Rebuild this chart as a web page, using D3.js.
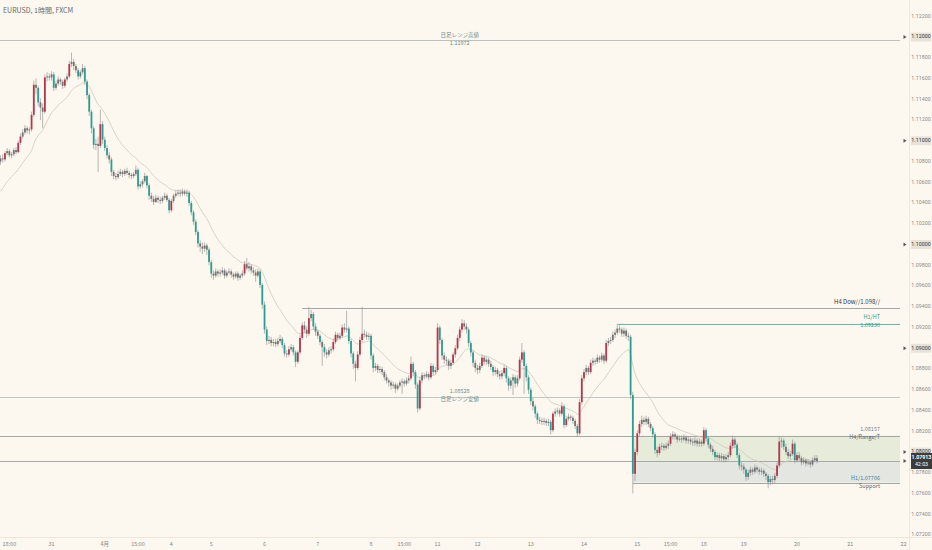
<!DOCTYPE html>
<html><head><meta charset="utf-8">
<script src="https://cdn.jsdelivr.net/npm/d3@7"></script>
<style>
html,body{margin:0;padding:0;background:#fdf8ef;}
svg{display:block;}
</style></head><body>
<svg id="c" width="932" height="550"></svg>
<script>
// ---- data (EURUSD 1h, FXCM) ----
const firstIndex = -47;          // bar index relative to 4月1日 00:00
const firstOpen = 1.1080;
const close = [
1.1083,1.1082,1.1088,1.1090,1.1086,1.1087,1.1091,1.1089,1.1098,1.1104,1.1108,1.1112,
1.1110,1.1111,1.1125,1.1154,1.1151,1.1137,1.1132,1.1128,1.1161,1.1162,1.1161,1.1164,
1.1151,1.1155,1.1159,1.1157,1.1153,1.1159,1.1162,1.1174,1.1176,1.1172,1.1168,1.1162,
1.1166,1.1170,1.1157,1.1144,1.1128,1.1112,1.1096,1.1097,1.1095,1.1116,1.1101,1.1093,
1.1086,1.1082,1.1070,1.1066,1.1065,1.1068,1.1070,1.1068,1.1071,1.1069,1.1067,1.1066,
1.1068,1.1072,1.1056,1.1058,1.1061,1.1066,1.1057,1.1047,1.1044,1.1041,1.1045,1.1043,
1.1042,1.1045,1.1047,1.1043,1.1033,1.1042,1.1047,1.1049,1.1050,1.1049,1.1051,1.1049,
1.1050,1.1040,1.1031,1.1022,1.1012,1.1001,1.0998,1.0996,1.0999,1.0995,1.0983,1.0972,
1.0970,1.0974,1.0972,1.0973,1.0975,1.0970,1.0973,1.0974,1.0971,1.0969,1.0972,1.0968,
1.0970,1.0972,1.0981,1.0977,1.0979,1.0975,1.0973,1.0970,1.0974,1.0961,1.0942,1.0918,
1.0907,1.0908,1.0905,1.0906,1.0904,1.0907,1.0909,1.0903,1.0895,1.0894,1.0899,1.0901,
1.0896,1.0887,1.0896,1.0910,1.0922,1.0918,1.0914,1.0929,1.0933,1.0921,1.0916,1.0912,
1.0906,1.0901,1.0896,1.0894,1.0898,1.0899,1.0906,1.0913,1.0910,1.0912,1.0920,1.0918,
1.0919,1.0907,1.0895,1.0885,1.0881,1.0894,1.0908,1.0914,1.0913,1.0911,1.0912,1.0893,
1.0881,1.0883,1.0879,1.0880,1.0877,1.0872,1.0869,1.0867,1.0864,1.0865,1.0861,1.0864,
1.0867,1.0868,1.0866,1.0869,1.0871,1.0885,1.0877,1.0865,1.0842,1.0869,1.0874,1.0873,
1.0875,1.0872,1.0883,1.0877,1.0879,1.0920,1.0908,1.0893,1.0889,1.0888,1.0883,1.0886,
1.0894,1.0900,1.0910,1.0918,1.0924,1.0921,1.0918,1.0905,1.0896,1.0886,1.0881,1.0879,
1.0883,1.0891,1.0887,1.0889,1.0885,1.0882,1.0877,1.0879,1.0875,1.0873,1.0876,1.0881,
1.0871,1.0864,1.0869,1.0872,1.0866,1.0871,1.0889,1.0896,1.0883,1.0872,1.0860,1.0849,
1.0844,1.0837,1.0831,1.0830,1.0829,1.0830,1.0828,1.0829,1.0821,1.0837,1.0839,1.0840,
1.0837,1.0844,1.0826,1.0832,1.0834,1.0833,1.0830,1.0825,1.0818,1.0848,1.0871,1.0877,
1.0881,1.0877,1.0886,1.0888,1.0887,1.0891,1.0889,1.0893,1.0888,1.0905,1.0907,1.0908,
1.0913,1.0915,1.0919,1.0918,1.0914,1.0917,1.0912,1.0911,1.0855,1.0779,1.0800,1.0818,
1.0827,1.0831,1.0829,1.0832,1.0827,1.0823,1.0817,1.0802,1.0799,1.0805,1.0806,1.0804,
1.0806,1.0808,1.0815,1.0817,1.0815,1.0812,1.0813,1.0812,1.0814,1.0811,1.0812,1.0810,
1.0809,1.0811,1.0808,1.0810,1.0808,1.0821,1.0813,1.0807,1.0803,1.0800,1.0795,1.0797,
1.0794,1.0796,1.0793,1.0795,1.0797,1.0806,1.0812,1.0807,1.0797,1.0787,1.0786,1.0783,
1.0776,1.0780,1.0783,1.0781,1.0785,1.0783,1.0781,1.0782,1.0779,1.0777,1.0771,1.0774,
1.0773,1.0777,1.0787,1.0810,1.0811,1.0805,1.0800,1.0796,1.0798,1.0808,1.0792,1.0797,
1.0794,1.0790,1.0792,1.0789,1.0790,1.0788,1.0792,1.0794,1.07913
];
const high = [
1.1086,1.1087,1.1090,1.1093,1.1092,1.1089,1.1093,1.1094,1.1100,1.1107,1.1111,1.1115,
1.1114,1.1113,1.1128,1.1158,1.1160,1.1153,1.1141,1.1136,1.1164,1.1166,1.1165,1.1167,
1.1166,1.1158,1.1162,1.1161,1.1159,1.1161,1.1165,1.1177,1.1185,1.1179,1.1174,1.1170,
1.1168,1.1174,1.1172,1.1159,1.1146,1.1130,1.1114,1.1102,1.1104,1.1130,1.1119,1.1104,
1.1096,1.1089,1.1084,1.1072,1.1069,1.1071,1.1073,1.1072,1.1073,1.1074,1.1071,1.1069,
1.1070,1.1076,1.1074,1.1061,1.1063,1.1069,1.1067,1.1059,1.1050,1.1047,1.1048,1.1047,
1.1046,1.1047,1.1050,1.1049,1.1045,1.1044,1.1049,1.1052,1.1053,1.1053,1.1054,1.1053,
1.1053,1.1052,1.1042,1.1033,1.1024,1.1014,1.1004,1.1002,1.1002,1.1001,1.0997,1.0985,
1.0975,1.0977,1.0976,1.0976,1.0978,1.0977,1.0975,1.0977,1.0976,1.0973,1.0974,1.0974,
1.0972,1.0975,1.0984,1.0987,1.0983,1.0981,1.0978,1.0976,1.0977,1.0976,1.0963,1.0945,
1.0921,1.0912,1.0911,1.0909,1.0909,1.0910,1.0913,1.0911,1.0905,1.0898,1.0902,1.0904,
1.0903,1.0898,1.0898,1.0913,1.0925,1.0926,1.0921,1.0940,1.0937,1.0935,1.0924,1.0918,
1.0914,1.0908,1.0904,1.0899,1.0901,1.0902,1.0909,1.0916,1.0915,1.0915,1.0923,1.0924,
1.0936,1.0921,1.0909,1.0897,1.0888,1.0897,1.0911,1.0940,1.0918,1.0916,1.0915,1.0914,
1.0895,1.0886,1.0885,1.0883,1.0882,1.0879,1.0875,1.0871,1.0869,1.0868,1.0867,1.0866,
1.0869,1.0871,1.0870,1.0872,1.0874,1.0892,1.0887,1.0879,1.0867,1.0872,1.0877,1.0876,
1.0878,1.0877,1.0886,1.0885,1.0882,1.0924,1.0922,1.0910,1.0896,1.0892,1.0890,1.0889,
1.0896,1.0903,1.0913,1.0921,1.0928,1.0927,1.0924,1.0920,1.0907,1.0898,1.0889,1.0884,
1.0886,1.0894,1.0893,1.0892,1.0891,1.0888,1.0884,1.0882,1.0881,1.0878,1.0879,1.0884,
1.0883,1.0873,1.0872,1.0875,1.0874,1.0874,1.0892,1.0905,1.0898,1.0885,1.0874,1.0862,
1.0852,1.0846,1.0839,1.0834,1.0833,1.0833,1.0832,1.0832,1.0831,1.0839,1.0842,1.0843,
1.0842,1.0848,1.0846,1.0835,1.0837,1.0836,1.0835,1.0832,1.0827,1.0851,1.0874,1.0880,
1.0884,1.0883,1.0889,1.0891,1.0890,1.0894,1.0893,1.0896,1.0895,1.0908,1.0910,1.0911,
1.0916,1.0918,1.0923,1.0922,1.0920,1.0920,1.0919,1.0915,1.0913,1.0858,1.0803,1.0821,
1.0830,1.0835,1.0834,1.0835,1.0834,1.0829,1.0825,1.0819,1.0805,1.0808,1.0809,1.0808,
1.0809,1.0811,1.0818,1.0820,1.0819,1.0817,1.0816,1.0816,1.0817,1.0816,1.0815,1.0814,
1.0813,1.0814,1.0813,1.0813,1.0812,1.0824,1.0823,1.0815,1.0809,1.0806,1.0802,1.0800,
1.0799,1.0799,1.0798,1.0798,1.0800,1.0809,1.0816,1.0814,1.0809,1.0799,1.0790,1.0789,
1.0785,1.0783,1.0786,1.0785,1.0788,1.0787,1.0785,1.0785,1.0784,1.0781,1.0779,1.0777,
1.0777,1.0780,1.0790,1.0815,1.0814,1.0813,1.0808,1.0803,1.0801,1.0812,1.0810,1.0800,
1.0800,1.0796,1.0795,1.0794,1.0793,1.0792,1.0795,1.0797,1.0797
];
const low = [
1.1077,1.1079,1.1080,1.1086,1.1084,1.1083,1.1085,1.1087,1.1088,1.1096,1.1102,1.1106,
1.1107,1.1106,1.1109,1.1123,1.1145,1.1133,1.1120,1.1112,1.1126,1.1157,1.1158,1.1158,
1.1148,1.1149,1.1153,1.1154,1.1150,1.1151,1.1157,1.1160,1.1171,1.1168,1.1165,1.1159,
1.1160,1.1164,1.1154,1.1140,1.1124,1.1107,1.1092,1.1091,1.1070,1.1093,1.1097,1.1090,
1.1083,1.1078,1.1066,1.1063,1.1062,1.1063,1.1066,1.1065,1.1066,1.1067,1.1064,1.1063,
1.1064,1.1066,1.1053,1.1054,1.1055,1.1059,1.1054,1.1043,1.1041,1.1038,1.1040,1.1040,
1.1039,1.1040,1.1043,1.1041,1.1030,1.1031,1.1040,1.1045,1.1047,1.1046,1.1047,1.1047,
1.1046,1.1037,1.1028,1.1019,1.1009,1.0997,1.0993,1.0991,1.0993,1.0990,1.0980,1.0968,
1.0966,1.0968,1.0969,1.0969,1.0971,1.0967,1.0968,1.0971,1.0968,1.0966,1.0967,1.0965,
1.0966,1.0968,1.0970,1.0975,1.0974,1.0972,1.0970,1.0964,1.0968,1.0958,1.0938,1.0914,
1.0903,1.0904,1.0902,1.0902,1.0901,1.0902,1.0905,1.0900,1.0892,1.0891,1.0892,1.0897,
1.0893,1.0882,1.0885,1.0894,1.0908,1.0915,1.0910,1.0912,1.0926,1.0918,1.0912,1.0909,
1.0903,1.0883,1.0892,1.0890,1.0892,1.0895,1.0897,1.0904,1.0907,1.0908,1.0910,1.0915,
1.0915,1.0904,1.0891,1.0880,1.0868,1.0879,1.0892,1.0906,1.0910,1.0908,1.0908,1.0889,
1.0877,1.0878,1.0876,1.0876,1.0874,1.0869,1.0866,1.0863,1.0860,1.0861,1.0857,1.0859,
1.0862,1.0856,1.0863,1.0864,1.0866,1.0869,1.0873,1.0861,1.0838,1.0840,1.0866,1.0870,
1.0871,1.0869,1.0870,1.0874,1.0875,1.0877,1.0904,1.0889,1.0885,1.0884,1.0879,1.0880,
1.0884,1.0891,1.0898,1.0907,1.0915,1.0918,1.0914,1.0901,1.0892,1.0882,1.0877,1.0875,
1.0876,1.0881,1.0884,1.0884,1.0882,1.0879,1.0873,1.0874,1.0872,1.0870,1.0870,1.0873,
1.0867,1.0859,1.0861,1.0855,1.0862,1.0863,1.0869,1.0886,1.0856,1.0868,1.0856,1.0845,
1.0840,1.0833,1.0827,1.0827,1.0826,1.0826,1.0825,1.0825,1.0817,1.0819,1.0834,1.0836,
1.0834,1.0835,1.0823,1.0824,1.0830,1.0830,1.0827,1.0822,1.0815,1.0816,1.0846,1.0868,
1.0874,1.0874,1.0875,1.0883,1.0884,1.0885,1.0886,1.0887,1.0885,1.0886,1.0902,1.0904,
1.0906,1.0910,1.0913,1.0915,1.0911,1.0911,1.0909,1.0907,1.0851,1.0760,1.0772,1.0797,
1.0815,1.0824,1.0826,1.0826,1.0824,1.0820,1.0814,1.0798,1.0795,1.0797,1.0802,1.0801,
1.0802,1.0803,1.0806,1.0812,1.0812,1.0809,1.0810,1.0809,1.0810,1.0808,1.0808,1.0807,
1.0806,1.0806,1.0805,1.0805,1.0805,1.0806,1.0810,1.0804,1.0800,1.0797,1.0792,1.0792,
1.0791,1.0791,1.0790,1.0790,1.0792,1.0795,1.0803,1.0804,1.0794,1.0783,1.0782,1.0779,
1.0772,1.0773,1.0777,1.0778,1.0779,1.0780,1.0778,1.0778,1.0776,1.0773,1.0765,1.0768,
1.0769,1.0770,1.0775,1.0785,1.0804,1.0802,1.0797,1.0793,1.0793,1.0796,1.0789,1.0790,
1.0791,1.0787,1.0788,1.0786,1.0787,1.0785,1.0786,1.0790,1.0789
];
const priceTicks = [1.072,1.074,1.076,1.078,1.080,1.082,1.084,1.086,1.088,1.090,1.092,1.094,1.096,1.098,1.100,1.102,1.104,1.106,1.108,1.110,1.112,1.114,1.116,1.118,1.120,1.122];
const markedPrices = [1.08,1.09,1.10,1.11,1.12];
const timeTickIndex = [-43,-24,0,15,30,48,72,96,120,135,150,168,192,216,240,255,270,288,312,336,360];
const timeTickLabels = ["18:00","31","4月","15:00","4","5","6","7","8","15:00","11","12","13","14","15","15:00","18","19","20","21","22"];
const levelDayHigh = 1.11972, levelDayLow = 1.08528;
const levelH4Dow = 1.09388, h4DowStart = 89;
const levelH1HT = 1.09230, h1HTStart = 231;
const levelRangeTop = 1.08157, levelSupport = 1.07706, zoneStart = 238;
const lastPrice = 1.07913, countdown = "42:03";
const maPeriod = 20, maSeed = 1.1048;
const title = "EURUSD, 1時間, FXCM";

// ---- drawing ----
const W = 932, H = 550, plotRight = 900, axisTop = 537;
const svg = d3.select("#c");
const FONT = "Roboto, 'Noto Sans', 'Noto Sans CJK JP', sans-serif";
const JFONT = "'Noto Sans CJK JP', 'Noto Sans', sans-serif";
svg.append("rect").attr("width", W).attr("height", H).attr("fill", "#fdf8ef");

const x = d3.scaleLinear().domain([-47, 360]).range([0.5, 903.5]);
const y = d3.scaleLinear().domain([1.08, 1.12]).range([452, 37]);

const bars = close.map((c, k) => ({
  i: firstIndex + k,
  o: k ? close[k - 1] : firstOpen,
  c, h: high[k], l: low[k]
}));

const g = svg.append("g");

// zone (range box)
g.append("rect").attr("x", x(zoneStart)).attr("width", plotRight - x(zoneStart))
  .attr("y", y(levelRangeTop)).attr("height", y(lastPrice) - y(levelRangeTop))
  .attr("fill", "#e6ebda");
g.append("rect").attr("x", x(zoneStart)).attr("width", plotRight - x(zoneStart))
  .attr("y", y(lastPrice)).attr("height", y(levelSupport) - y(lastPrice))
  .attr("fill", "#e4e6e2");

function hline(p, x0, x1, col, w) {
  g.append("line").attr("x1", x0).attr("x2", x1)
    .attr("y1", Math.round(y(p)) + 0.5).attr("y2", Math.round(y(p)) + 0.5)
    .attr("stroke", col).attr("stroke-width", w || 1);
}
hline(levelDayHigh, 0, plotRight, "#b9c2bc");
hline(levelDayLow, 0, plotRight, "#c3c7c2");
hline(levelRangeTop, 0, plotRight, "#a3a8a4");
hline(lastPrice, 0, plotRight, "#a9a9a9");
hline(levelH4Dow, x(h4DowStart), plotRight, "#a2a7ab");
hline(levelH1HT, x(h1HTStart), plotRight, "#6db5ac");
hline(levelSupport, x(zoneStart), plotRight, "#a3a8a4");

// moving average (EMA)
const alpha = 2 / (maPeriod + 1);
let e = maSeed;
const ma = bars.map(b => { e = e + alpha * (b.c - e); return { i: b.i, v: e }; });
g.append("path").datum(ma)
  .attr("d", d3.line().x(d => x(d.i)).y(d => y(d.v)))
  .attr("fill", "none").attr("stroke", "#d2c7b9").attr("stroke-width", 0.8);

// candles
const UP = "#b4374d", DN = "#2b9e94", NEU = "#747474";
const cg = g.append("g");
cg.selectAll("line.w").data(bars).join("line").attr("class", "w")
  .attr("x1", d => x(d.i)).attr("x2", d => x(d.i))
  .attr("y1", d => y(Math.max(d.h, d.o, d.c))).attr("y2", d => y(Math.min(d.l, d.o, d.c)))
  .attr("stroke", "#9a9a9a").attr("stroke-width", 0.7);
cg.selectAll("rect.b").data(bars).join("rect").attr("class", "b")
  .attr("x", d => x(d.i) - 0.9).attr("width", 1.8)
  .attr("y", d => y(Math.max(d.o, d.c)))
  .attr("height", d => Math.max(0.8, Math.abs(y(d.o) - y(d.c))))
  .attr("fill", d => Math.abs(d.c - d.o) < 0.0005 ? NEU : (d.c > d.o ? UP : DN));

// level texts
function txt(t, tx, ty, anchor, col, size, fam) {
  svg.append("text").attr("x", tx).attr("y", ty).attr("text-anchor", anchor)
    .attr("dominant-baseline", "middle").attr("fill", col)
    .attr("font-size", size || 5.5).attr("font-family", fam || JFONT).text(t);
}
const cx = x(160);
txt("日足レンジ高値", cx, y(levelDayHigh) - 4.5, "middle", "#5f8d90");
txt(d3.format(".5f")(levelDayHigh), cx, y(levelDayHigh) + 3.5, "middle", "#5f8d90");
txt(d3.format(".5f")(levelDayLow), cx, y(levelDayLow) - 5.5, "middle", "#5f8d90");
txt("日足レンジ安値", cx, y(levelDayLow) + 2.5, "middle", "#5f8d90");
txt("H4 Dow//1.098//", 880, y(levelH4Dow) - 5.5, "end", "#2f3a55", 6);
txt("H1/HT", 880, y(levelH1HT) - 6.5, "end", "#2a9d92");
txt(d3.format(".5f")(levelH1HT), 880, y(levelH1HT) + 1.5, "end", "#2a9d92");
txt(d3.format(".5f")(levelRangeTop), 880, y(levelRangeTop) - 6, "end", "#7a7f86");
txt("H4/Range/T", 880, y(levelRangeTop) + 2, "end", "#5e6670");
txt("H1/" + d3.format(".5f")(levelSupport), 880, y(levelSupport) - 4.5, "end", "#4b7d93");
txt("Support", 880, y(levelSupport) + 3.5, "end", "#5e6670");

// title
txt(title, 3, 11, "start", "#6a6a6a", 7, JFONT);

// axes separators
svg.append("line").attr("x1", 0).attr("x2", W).attr("y1", axisTop + 0.5).attr("y2", axisTop + 0.5)
  .attr("stroke", "#ece6dc");
svg.append("line").attr("x1", 909.5).attr("x2", 909.5).attr("y1", 0).attr("y2", H)
  .attr("stroke", "#ece6dc");

// price axis
const fmt = d3.format(".5f");
const pa = svg.append("g");
priceTicks.forEach(p => {
  const yy = y(p);
  const marked = markedPrices.some(m => Math.abs(m - p) < 1e-9);
  if (marked) {
    pa.append("rect").attr("x", 911).attr("y", yy - 4.5).attr("width", 20).attr("height", 9)
      .attr("fill", "#e7e3dc");
    pa.append("path").attr("d", `M903.5,${yy - 2}L906.5,${yy}L903.5,${yy + 2}Z`).attr("fill", "#555");
  }
  pa.append("text").attr("x", 921).attr("y", yy).attr("text-anchor", "middle")
    .attr("dominant-baseline", "middle").attr("font-size", 5.3).attr("font-family", FONT)
    .attr("fill", marked ? "#333" : "#8a8a8a").text(fmt(p));
});
// last price tag
const ly = y(lastPrice);
pa.append("path").attr("d", `M903.5,${ly - 2}L906.5,${ly}L903.5,${ly + 2}Z`).attr("fill", "#555");
pa.append("rect").attr("x", 911).attr("y", ly - 8).attr("width", 21).attr("height", 16).attr("fill", "#3b3b3b");
pa.append("text").attr("x", 921.5).attr("y", ly - 3.2).attr("text-anchor", "middle")
  .attr("dominant-baseline", "middle").attr("font-size", 5.3).attr("font-family", FONT)
  .attr("fill", "#fff").attr("font-weight", "bold").text(fmt(lastPrice));
pa.append("text").attr("x", 921.5).attr("y", ly + 3.6).attr("text-anchor", "middle")
  .attr("dominant-baseline", "middle").attr("font-size", 5.3).attr("font-family", FONT)
  .attr("fill", "#fff").text(countdown);

// time axis
const ta = svg.append("g");
timeTickIndex.forEach((ti, k) => {
  ta.append("text").attr("x", x(ti)).attr("y", 544).attr("text-anchor", "middle")
    .attr("dominant-baseline", "middle").attr("font-size", 5.5)
    .attr("font-family", JFONT).attr("fill", "#858585").text(timeTickLabels[k]);
});
</script>
</body></html>
